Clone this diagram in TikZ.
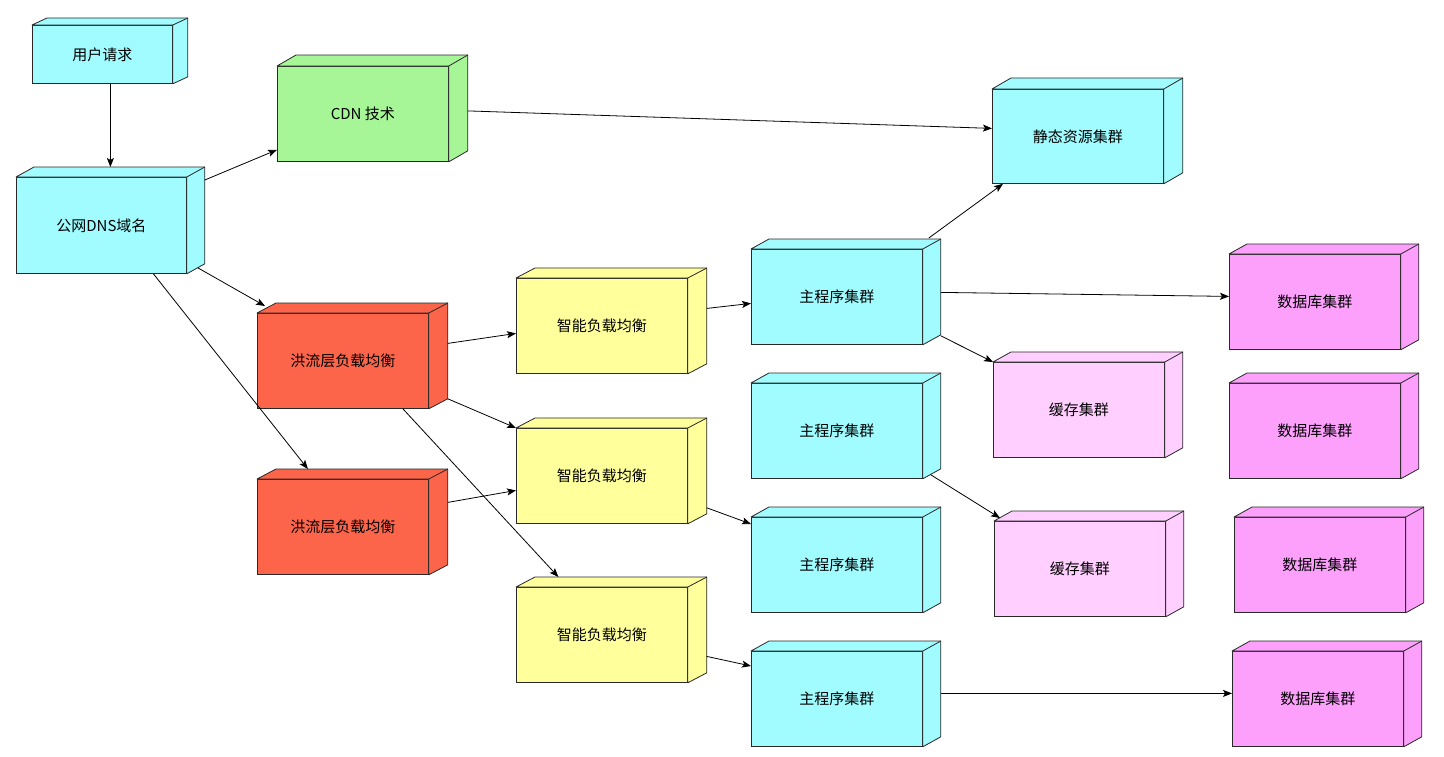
\documentclass[tikz,border=0pt]{standalone}
\usepackage{fontspec}
\setmainfont{Noto Sans CJK SC}
\usepackage{tikz}
\usepackage{xcolor}
\usetikzlibrary{arrows.meta, positioning}
\definecolor{cCyan}{RGB}{160,252,255}
\definecolor{cGreen}{RGB}{166,245,150}
\definecolor{cRed}{RGB}{252,101,74}
\definecolor{cYellow}{RGB}{255,255,155}
\definecolor{cCache}{RGB}{255,208,255}
\definecolor{cDb}{RGB}{252,160,252}
\definecolor{cEdge}{RGB}{40,40,40}
\tikzset{
	cube/.style ={rectangle, draw=cEdge, line width=0.8pt, minimum width=171pt, minimum height=95pt, inner sep=0pt, anchor=north west, align=center, text=black, font=\fontsize{15}{18}\selectfont},
	face/.style ={draw=cEdge, line width=0.8pt, line join=round},
	link/.style ={-{Stealth[length=9pt, width=7pt, inset=2pt]}, line width=0.8pt},
}
\begin{document}
\begin{tikzpicture}[x=1pt, y=-1pt]
	\fill[white] (0,0) rectangle (1444,756);
	\useasboundingbox (0,0) rectangle (1444,756);
	% front faces
	\node[cube, fill=cCyan, minimum width=140pt, minimum height=58pt] (req) at (32,25) {用户请求};
	\node[cube, fill=cCyan, minimum width=170pt, minimum height=96pt] (dns) at (16,177) {公网DNS域名};
	\node[cube, fill=cGreen] (cdn) at (277,66) {CDN 技术};
	\node[cube, fill=cCyan, minimum height=94pt] (static) at (992,89) {静态资源集群};
	\node[cube, fill=cRed] (flood1) at (257,313) {洪流层负载均衡};
	\node[cube, fill=cRed] (flood2) at (257,479) {洪流层负载均衡};
	\node[cube, fill=cYellow] (smart1) at (516,278) {智能负载均衡};
	\node[cube, fill=cYellow] (smart2) at (516,428) {智能负载均衡};
	\node[cube, fill=cYellow] (smart3) at (516,587) {智能负载均衡};
	\node[cube, fill=cCyan] (main1) at (751,249) {主程序集群};
	\node[cube, fill=cCyan] (main2) at (751,383) {主程序集群};
	\node[cube, fill=cCyan] (main3) at (751,517) {主程序集群};
	\node[cube, fill=cCyan] (main4) at (751,651) {主程序集群};
	\node[cube, fill=cCache] (cache1) at (993,362) {缓存集群};
	\node[cube, fill=cCache] (cache2) at (994,521) {缓存集群};
	\node[cube, fill=cDb] (db1) at (1229,254) {数据库集群};
	\node[cube, fill=cDb] (db2) at (1229,383) {数据库集群};
	\node[cube, fill=cDb] (db3) at (1234,517) {数据库集群};
	\node[cube, fill=cDb] (db4) at (1232,651) {数据库集群};
	% top and side faces
	\foreach \n/\c/\dx/\dy in {req/cCyan/15/7, dns/cCyan/18/10, cdn/cGreen/19/11, static/cCyan/19/11,
		flood1/cRed/19/10, flood2/cRed/19/10, smart1/cYellow/19/10, smart2/cYellow/19/10, smart3/cYellow/19/10,
		main1/cCyan/18/10, main2/cCyan/18/10, main3/cCyan/18/10, main4/cCyan/18/10,
		cache1/cCache/18/10, cache2/cCache/18/10, db1/cDb/18/10, db2/cDb/18/10, db3/cDb/18/10, db4/cDb/18/10} {
		\filldraw[face, fill=\c] (\n.north west) -- ([shift={(\dx pt,\dy pt)}]\n.north west)
			-- ([shift={(\dx pt,\dy pt)}]\n.north east) -- ([shift={(\dx pt,\dy pt)}]\n.south east)
			-- (\n.south east) -- (\n.north east) -- cycle;
		\draw[face] (\n.north east) -- ([shift={(\dx pt,\dy pt)}]\n.north east);
	}
	% connectors
	\draw[link] ([xshift=8pt]req.south) -- ([shift={(9pt,10pt)}]dns.north);
	\draw[link] ([shift={(18pt,-3pt)}]dns.north east) -- ([yshift=12pt]cdn.south west);
	\draw[link] ([shift={(19pt,3pt)}]cdn.east) -- ([yshift=8pt]static.west);
	\draw[link] ([shift={(11pt,6pt)}]dns.south east) -- ([shift={(8pt,7pt)}]flood1.north west);
	\draw[link] ([xshift=52pt]dns.south) -- ([shift={(-35pt,10pt)}]flood2.north);
	\draw[link] ([shift={(19pt,17.5pt)}]flood1.east) -- ([yshift=-7.5pt]smart1.west);
	\draw[link] ([shift={(19pt,10pt)}]flood1.south east) -- (smart2.north west);
	\draw[link] ([xshift=60pt]flood1.south) -- ([shift={(-43.5pt,10pt)}]smart3.north);
	\draw[link] ([shift={(19pt,24.5pt)}]flood2.east) -- ([yshift=-14.5pt]smart2.west);
	\draw[link] ([shift={(19pt,17.5pt)}]smart1.east) -- ([yshift=-6.5pt]main1.west);
	\draw[link] ([shift={(6pt,11pt)}]main1.north east) -- ([xshift=11pt]static.south west);
	\draw[link] ([shift={(18pt,4.5pt)}]main1.east) -- ([yshift=5.5pt]db1.west);
	\draw[link] ([shift={(18pt,9pt)}]main1.south east) -- (cache1.north west);
	\draw[link] ([shift={(8pt,4pt)}]main2.south east) -- ([shift={(6pt,3pt)}]cache2.north west);
	\draw[link] ([shift={(19pt,16pt)}]smart2.south east) -- ([yshift=-7pt]main3.north west);
	\draw[link] ([shift={(19pt,-21.5pt)}]smart3.east) -- ([yshift=-15pt]main4.north west);
	\draw[link] ([shift={(18pt,5.5pt)}]main4.east) -- ([yshift=5.5pt]db4.west);
\end{tikzpicture}
\end{document}
